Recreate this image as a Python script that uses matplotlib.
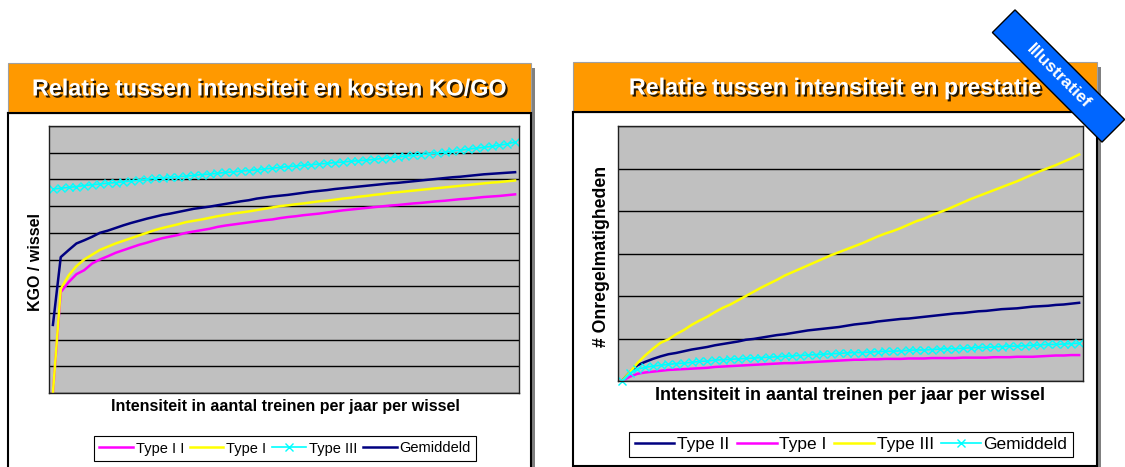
import numpy as np
import matplotlib.pyplot as plt
from matplotlib.patches import Rectangle, Polygon
import matplotlib.patheffects as pe

plt.rcParams['font.family'] = ['Liberation Sans', 'DejaVu Sans']

# --- data (60 categories per chart) ---
n_points = 60
x = np.arange(1, n_points + 1)

# left chart: KGO / wissel
kosten_type_ii = [0, 3.78, 4.15, 4.45, 4.6, 4.85, 5.0, 5.12, 5.25, 5.35,
                  5.45, 5.55, 5.63, 5.72, 5.8, 5.86, 5.92, 6.0, 6.05, 6.1,
                  6.15, 6.22, 6.27, 6.31, 6.35, 6.39, 6.43, 6.47, 6.5, 6.55,
                  6.59, 6.62, 6.66, 6.69, 6.72, 6.76, 6.8, 6.84, 6.87, 6.9,
                  6.93, 6.96, 6.99, 7.02, 7.04, 7.07, 7.1, 7.12, 7.15, 7.18,
                  7.2, 7.23, 7.26, 7.28, 7.31, 7.34, 7.36, 7.38, 7.41, 7.44]
kosten_type_i = [0, 3.9, 4.4, 4.75, 5.0, 5.18, 5.36, 5.48, 5.6, 5.7,
                 5.8, 5.9, 6.0, 6.1, 6.18, 6.25, 6.32, 6.4, 6.45, 6.5,
                 6.56, 6.62, 6.67, 6.72, 6.76, 6.8, 6.85, 6.9, 6.95, 7.0,
                 7.03, 7.07, 7.1, 7.14, 7.18, 7.2, 7.24, 7.28, 7.31, 7.35,
                 7.38, 7.42, 7.45, 7.49, 7.52, 7.55, 7.58, 7.61, 7.64, 7.67,
                 7.7, 7.73, 7.76, 7.79, 7.82, 7.85, 7.88, 7.9, 7.93, 7.96]
kosten_type_iii = [7.64, 7.67, 7.7, 7.73, 7.77, 7.8, 7.83, 7.86, 7.88, 7.91,
                   7.94, 7.97, 8.0, 8.04, 8.06, 8.08, 8.1, 8.12, 8.15, 8.18,
                   8.2, 8.23, 8.26, 8.28, 8.31, 8.33, 8.36, 8.39, 8.42, 8.45,
                   8.48, 8.5, 8.53, 8.55, 8.58, 8.6, 8.63, 8.65, 8.68, 8.7,
                   8.72, 8.75, 8.78, 8.81, 8.84, 8.87, 8.9, 8.93, 8.96, 8.99,
                   9.02, 9.06, 9.09, 9.13, 9.17, 9.2, 9.24, 9.28, 9.33, 9.4]
kosten_gemiddeld = [2.55, 5.09, 5.35, 5.6, 5.72, 5.85, 6.0, 6.08, 6.18, 6.28,
                    6.37, 6.45, 6.53, 6.6, 6.67, 6.72, 6.78, 6.84, 6.9, 6.94,
                    6.98, 7.03, 7.08, 7.13, 7.18, 7.22, 7.28, 7.32, 7.36, 7.39,
                    7.42, 7.46, 7.5, 7.54, 7.57, 7.6, 7.64, 7.67, 7.7, 7.73,
                    7.76, 7.79, 7.82, 7.85, 7.87, 7.9, 7.93, 7.96, 7.99, 8.02,
                    8.05, 8.08, 8.1, 8.13, 8.16, 8.19, 8.21, 8.23, 8.25, 8.27]

# right chart: # onregelmatigheden
prest_type_ii = [0, 0.2, 0.37, 0.45, 0.52, 0.58, 0.63, 0.66, 0.7, 0.74,
                 0.77, 0.8, 0.84, 0.87, 0.9, 0.93, 0.97, 0.99, 1.02, 1.05,
                 1.08, 1.1, 1.13, 1.16, 1.19, 1.21, 1.23, 1.25, 1.27, 1.3,
                 1.33, 1.35, 1.37, 1.4, 1.42, 1.44, 1.46, 1.47, 1.49, 1.51,
                 1.53, 1.55, 1.57, 1.59, 1.6, 1.62, 1.64, 1.65, 1.67, 1.69,
                 1.7, 1.71, 1.73, 1.75, 1.76, 1.77, 1.79, 1.8, 1.82, 1.84]
prest_type_i = [0, 0.1, 0.17, 0.2, 0.22, 0.24, 0.26, 0.27, 0.28, 0.29,
                0.3, 0.31, 0.33, 0.34, 0.35, 0.36, 0.37, 0.38, 0.39, 0.4,
                0.41, 0.42, 0.42, 0.43, 0.44, 0.45, 0.46, 0.47, 0.48, 0.49,
                0.5, 0.5, 0.51, 0.51, 0.52, 0.52, 0.52, 0.53, 0.53, 0.53,
                0.54, 0.54, 0.54, 0.54, 0.55, 0.55, 0.55, 0.55, 0.56, 0.56,
                0.56, 0.57, 0.57, 0.57, 0.58, 0.59, 0.6, 0.6, 0.61, 0.61]
prest_type_iii = [0, 0.2, 0.42, 0.6, 0.76, 0.9, 0.98, 1.1, 1.2, 1.32,
                  1.42, 1.51, 1.62, 1.72, 1.8, 1.9, 2.0, 2.1, 2.2, 2.29,
                  2.38, 2.48, 2.56, 2.64, 2.72, 2.8, 2.88, 2.96, 3.03, 3.1,
                  3.17, 3.24, 3.32, 3.4, 3.47, 3.53, 3.6, 3.68, 3.76, 3.82,
                  3.9, 3.97, 4.04, 4.12, 4.2, 4.28, 4.35, 4.42, 4.49, 4.56,
                  4.63, 4.7, 4.78, 4.86, 4.94, 5.01, 5.08, 5.16, 5.24, 5.33]
prest_gemiddeld = [0, 0.18, 0.28, 0.32, 0.35, 0.37, 0.39, 0.41, 0.42, 0.44,
                   0.46, 0.47, 0.49, 0.5, 0.51, 0.52, 0.53, 0.54, 0.55, 0.56,
                   0.57, 0.58, 0.59, 0.6, 0.61, 0.62, 0.63, 0.64, 0.65, 0.66,
                   0.67, 0.67, 0.68, 0.69, 0.7, 0.7, 0.71, 0.72, 0.73, 0.73,
                   0.74, 0.75, 0.76, 0.76, 0.77, 0.78, 0.79, 0.79, 0.8, 0.81,
                   0.82, 0.82, 0.83, 0.84, 0.85, 0.86, 0.86, 0.87, 0.88, 0.89]

left_labels = ["Type I I", "Type I", "Type III", "Gemiddeld"]
right_labels = ["Type II", "Type I", "Type III", "Gemiddeld"]

ORANGE = "#FF9900"
PLOT_BG = "#C0C0C0"
NAVY = "#000080"
MAGENTA = "#FF00FF"
YELLOW = "#FFFF00"
CYAN = "#00FFFF"

W, H = 1125, 467
fig = plt.figure(figsize=(W / 100, H / 100), dpi=100)


def rect(x0, y0, x1, y1):
    """pixelcoords (y naar beneden) -> figure fraction"""
    return [x0 / W, 1 - y1 / H, (x1 - x0) / W, (y1 - y0) / H]


# achtergrond: panelen met oranje titelbalk
bg = fig.add_axes([0, 0, 1, 1], zorder=0)
bg.set_xlim(0, W)
bg.set_ylim(H, 0)
bg.axis("off")

panels = [(8, 531, 63, 113, 480, "Relatie tussen intensiteit en kosten KO/GO"),
          (573, 1097, 62, 112, 466, "Relatie tussen intensiteit en prestatie")]
for x0, x1, yt, yb, ybot, title in panels:
    bg.add_patch(Rectangle((x0 + 4, yt + 5), x1 - x0, ybot - yt, fc="#808080", ec="none"))
    bg.add_patch(Rectangle((x0, yb), x1 - x0, ybot - yb, fc="white", ec="black", lw=1.5))
    bg.add_patch(Rectangle((x0, yt), x1 - x0, yb - yt, fc=ORANGE, ec="#A0A0A0", lw=0.8))
    bg.plot([x0, x1], [yb, yb], color="black", lw=1.5)
    bg.text((x0 + x1) / 2, (yt + yb) / 2 + 1, title, color="white", fontsize=16.8,
            fontweight="bold", ha="center", va="center",
            path_effects=[pe.SimplePatchShadow(offset=(1.5, -1.5), shadow_rgbFace="black", alpha=0.85),
                          pe.Normal()])


def style_axes(ax, ymax):
    ax.set_facecolor(PLOT_BG)
    ax.set_xlim(0.5, n_points + 0.5)
    ax.set_ylim(0, ymax)
    ax.set_yticks(np.arange(0, ymax + 1))
    ax.set_xticks([])
    ax.tick_params(left=False, labelleft=False)
    ax.grid(axis="y", color="black", lw=1)
    ax.set_axisbelow(True)
    for s in ax.spines.values():
        s.set_color("#202020")
        s.set_linewidth(1)


# linker grafiek
ax1 = fig.add_axes(rect(49, 126, 519, 393), zorder=2)
style_axes(ax1, 10)
l1, = ax1.plot(x, kosten_type_ii, color=MAGENTA, lw=1.8)
l2, = ax1.plot(x, kosten_type_i, color=YELLOW, lw=1.8)
l3, = ax1.plot(x, kosten_type_iii, color=CYAN, lw=1.2, marker="x", ms=6, mew=1)
l4, = ax1.plot(x, kosten_gemiddeld, color=NAVY, lw=1.8)
fig.text(36 / W, 1 - 262 / H, "KGO / wissel", rotation=90, fontsize=11.5,
         fontweight="bold", ha="center", va="center")
fig.text(285 / W, 1 - 406 / H, "Intensiteit in aantal treinen per jaar per wissel",
         fontsize=11.5, fontweight="bold", ha="center", va="center")
leg1 = fig.legend([l1, l2, l3, l4], left_labels, loc="center", ncol=4,
                  bbox_to_anchor=(285 / W, 1 - 448.5 / H), fontsize=10.5,
                  handlelength=2.3, handletextpad=0.2, columnspacing=0.4,
                  borderpad=0.35, borderaxespad=0, fancybox=False, framealpha=1,
                  edgecolor="black")
leg1.get_frame().set_linewidth(0.8)

# rechter grafiek
ax2 = fig.add_axes(rect(618, 126, 1083, 381), zorder=2)
style_axes(ax2, 6)
r1, = ax2.plot(x, prest_type_ii, color=NAVY, lw=1.8)
r2, = ax2.plot(x, prest_type_i, color=MAGENTA, lw=1.8)
r3, = ax2.plot(x, prest_type_iii, color=YELLOW, lw=1.8)
r4, = ax2.plot(x, prest_gemiddeld, color=CYAN, lw=1.2, marker="x", ms=6, mew=1, clip_on=False)
fig.text(602 / W, 1 - 256 / H, "# Onregelmatigheden", rotation=90, fontsize=12.7,
         fontweight="bold", ha="center", va="center")
fig.text(850 / W, 1 - 396 / H, "Intensiteit in aantal treinen per jaar per wissel",
         fontsize=13, fontweight="bold", ha="center", va="center")
leg2 = fig.legend([r1, r2, r3, r4], right_labels, loc="center", ncol=4,
                  bbox_to_anchor=(851 / W, 1 - 444.5 / H), fontsize=12.5,
                  handlelength=2.3, handletextpad=0.17, columnspacing=0.4,
                  borderpad=0.3, borderaxespad=0, fancybox=False, framealpha=1,
                  edgecolor="black")
leg2.get_frame().set_linewidth(0.8)

# "Illustratief" banner
top = fig.add_axes([0, 0, 1, 1], zorder=10)
top.set_xlim(0, W)
top.set_ylim(H, 0)
top.axis("off")
c = np.array([1058.5, 76.0])
u = np.array([1, 1]) / np.sqrt(2)
v = np.array([1, -1]) / np.sqrt(2)
L, Wd = 155, 32
corners = [c - L / 2 * u + Wd / 2 * v, c + L / 2 * u + Wd / 2 * v,
           c + L / 2 * u - Wd / 2 * v, c - L / 2 * u - Wd / 2 * v]
top.add_patch(Polygon(corners, closed=True, fc="#0066FF", ec="black", lw=1, clip_on=False))
top.text(c[0], c[1], "Illustratief", rotation=-45, color="white", fontsize=12.5,
         fontweight="bold", ha="center", va="center", rotation_mode="anchor")

fig.savefig("out.png", dpi=100)
